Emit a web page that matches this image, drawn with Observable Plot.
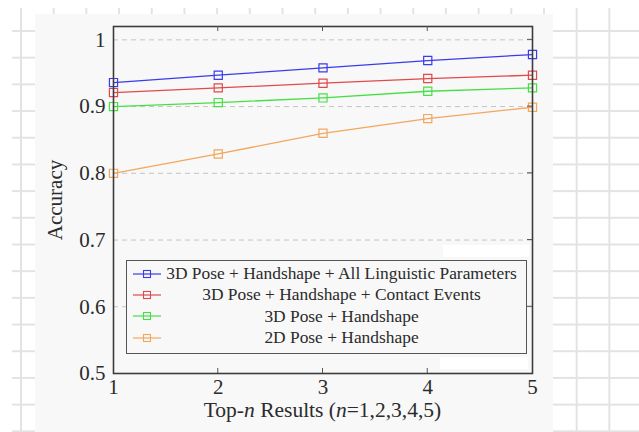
<!DOCTYPE html>
<html>
<head>
<meta charset="utf-8">
<script src="https://cdn.jsdelivr.net/npm/d3@7"></script>
<script src="https://cdn.jsdelivr.net/npm/@observablehq/plot@0.6"></script>
<style>
  html, body { margin: 0; padding: 0; }
  body { width: 639px; height: 432px; position: relative; overflow: hidden; background: #ffffff; }
  .serif, .serif * { font-family: "Liberation Serif", "Times New Roman", Times, serif !important; }
  #grid { position: absolute; left: 12px; top: 8px; width: 627px; height: 424px;
    background-image: linear-gradient(to right, #e3e3e3 1.5px, transparent 1.5px), linear-gradient(to bottom, #e3e3e3 1.5px, transparent 1.5px);
    background-size: 32.7px 26.7px; background-position: 8px 22px; }
  #panel { position: absolute; left: 35px; top: 14px; width: 518px; height: 418px; background: #f8f8f8; }
  .white { position: absolute; background: #ffffff; }
  #chart { position: absolute; left: 0; top: 0; }
  #xlabel { position: absolute; left: 113px; width: 419px; top: 398px; text-align: center; font-size: 21.5px; color: #2b2b2b; white-space: nowrap; }
  #legend { position: absolute; left: 126px; top: 260px; width: 399px; height: 90px; border: 1.2px solid #555; background: #f8f8f8; padding-top: 2px; box-sizing: content-box; }
  .row { height: 21.3px; display: flex; align-items: center; }
  .row svg { flex: 0 0 34px; }
  .row span { flex: 1; text-align: center; font-size: 17.4px; color: #2b2b2b; padding-right: 4px; white-space: nowrap; }
</style>
</head>
<body>
<div id="grid"></div>
<div id="panel"></div>
<div class="white" style="left:443px;top:245px;width:86px;height:12px"></div>
<div class="white" style="left:440px;top:357px;width:88px;height:12px"></div>
<div id="chart" class="serif"></div>
<div id="legend" class="serif"></div>
<div id="xlabel" class="serif">Top-<i>n</i> Results (<i>n</i>=1,2,3,4,5)</div>
<script>
// ---- data ----
const topN = [1, 2, 3, 4, 5];
const seriesNames = [
  "3D Pose + Handshape + All Linguistic Parameters",
  "3D Pose + Handshape + Contact Events",
  "3D Pose + Handshape",
  "2D Pose + Handshape"
];
const allLinguistic = [0.936, 0.947, 0.958, 0.969, 0.978];
const contactEvents = [0.921, 0.928, 0.935, 0.942, 0.947];
const poseHandshape3D = [0.900, 0.906, 0.913, 0.923, 0.928];
const poseHandshape2D = [0.800, 0.829, 0.860, 0.882, 0.899];
const seriesColors = ["#3b3bec", "#e04a4a", "#46e046", "#f2a65e"];
const yTicks = [0.5, 0.6, 0.7, 0.8, 0.9, 1];
const xTicks = [1, 2, 3, 4, 5];

const seriesValues = [allLinguistic, contactEvents, poseHandshape3D, poseHandshape2D];
const rows = [];
seriesValues.forEach((vals, s) => vals.forEach((v, i) => rows.push({series: seriesNames[s], n: topN[i], acc: v})));
const drawOrder = [3, 2, 1, 0];

const marks = [
  Plot.gridY([0.6, 0.7, 0.8, 0.9, 1], {stroke: "#c4c4c4", strokeOpacity: 1, strokeDasharray: "5,4", strokeWidth: 1})
];
for (const s of drawOrder) {
  const data = rows.filter(d => d.series === seriesNames[s]);
  marks.push(Plot.line(data, {x: "n", y: "acc", stroke: seriesColors[s], strokeWidth: 1.3}));
  marks.push(Plot.dot(data, {x: "n", y: "acc", symbol: "square", r: 4.6, stroke: seriesColors[s], strokeWidth: 1.2, fill: "none"}));
}
marks.push(Plot.frame({stroke: "#3c3c3c", strokeWidth: 1.6}));

const chart = Plot.plot({
  width: 639,
  height: 432,
  marginLeft: 113,
  marginRight: 107,
  marginTop: 26,
  marginBottom: 59,
  style: {background: "transparent", fontFamily: "'Liberation Serif', 'Times New Roman', Times, serif", fontSize: "21px", color: "#2b2b2b", overflow: "visible"},
  x: {domain: [1, 5], ticks: xTicks, tickFormat: d3.format("d"), tickSize: 0, tickPadding: 6, label: null},
  y: {domain: [0.5, 1.02], ticks: yTicks, tickFormat: d => d === 1 ? "1" : d.toFixed(1), tickSize: 0, tickPadding: 8,
      label: "Accuracy", labelAnchor: "center", labelArrow: "none", labelOffset: 66},
  marks
});
document.getElementById("chart").appendChild(chart);

// inner ticks like the original (pgfplots style), positioned from the chart's scales
const sx = chart.scale("x"), sy = chart.scale("y");
const svg = d3.select(chart);
const g = svg.append("g").attr("stroke", "#555").attr("stroke-width", 1);
const [y0, y1] = [sy.apply(0.5), sy.apply(1.02)];
const [x0, x1] = [sx.apply(1), sx.apply(5)];
xTicks.slice(1, -1).forEach(t => {
  const px = sx.apply(t);
  g.append("line").attr("x1", px).attr("x2", px).attr("y1", y0).attr("y2", y0 - 5);
  g.append("line").attr("x1", px).attr("x2", px).attr("y1", y1).attr("y2", y1 + 5);
});
yTicks.slice(1).forEach(t => {
  const py = sy.apply(t);
  g.append("line").attr("x1", x1).attr("x2", x1 - 5).attr("y1", py).attr("y2", py);
});

// legend
const legend = d3.select("#legend");
seriesNames.forEach((name, s) => {
  const row = legend.append("div").attr("class", "row");
  const sw = row.append("svg").attr("width", 34).attr("height", 14);
  sw.append("line").attr("x1", 6).attr("x2", 34).attr("y1", 7).attr("y2", 7).attr("stroke", seriesColors[s]).attr("stroke-width", 1.2);
  sw.append("rect").attr("x", 16.5).attr("y", 3.5).attr("width", 7).attr("height", 7).attr("fill", "none").attr("stroke", seriesColors[s]).attr("stroke-width", 1.1);
  row.append("span").text(name);
});
</script>
</body>
</html>
